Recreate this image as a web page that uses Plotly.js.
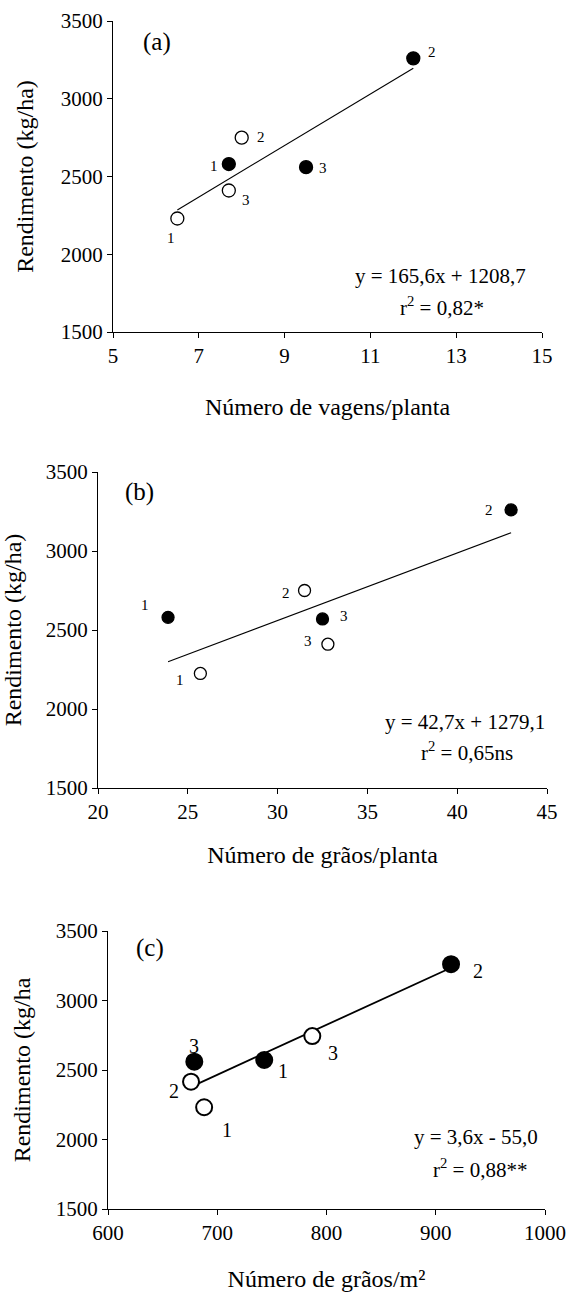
<!DOCTYPE html>
<html>
<head>
<meta charset="utf-8">
<script src="https://cdn.plot.ly/plotly-3.0.1.min.js"></script>
<style>html,body{margin:0;padding:0;background:#fff;}#chart{width:568px;height:1292px;}</style>
</head>
<body>
<div id="chart"></div>
<script>
// ---------- DATA ----------
const pointLabels = ["1", "2", "3"];

// Panel (a): Número de vagens/planta
const aOpenX = [6.5, 8.0, 7.7];
const aOpenY = [2230, 2750, 2410];
const aFilledX = [7.7, 12.0, 9.5];
const aFilledY = [2580, 3260, 2560];
const aSlope = 165.6, aIntercept = 1208.7;
const aEq = ["y = 165,6x + 1208,7", "r<sup>2</sup> = 0,82*"];

// Panel (b): Número de grãos/planta
const bOpenX = [25.7, 31.5, 32.8];
const bOpenY = [2225, 2750, 2410];
const bFilledX = [23.9, 43.0, 32.5];
const bFilledY = [2580, 3260, 2570];
const bSlope = 42.7, bIntercept = 1279.1;
const bEq = ["y = 42,7x + 1279,1", "r<sup>2</sup> = 0,65ns"];

// Panel (c): Número de grãos/m²
const cOpenX = [688, 676, 787];
const cOpenY = [2232, 2416, 2744];
const cFilledX = [743, 914, 679];
const cFilledY = [2572, 3261, 2560];
const cSlope = 3.6, cIntercept = -55.0;
const cEq = ["y = 3,6x - 55,0", "r<sup>2</sup> = 0,88**"];

const yTicks = [1500, 2000, 2500, 3000, 3500];
const aXTicks = [5, 7, 9, 11, 13, 15];
const bXTicks = [20, 25, 30, 35, 40, 45];
const cXTicks = [600, 700, 800, 900, 1000];

const panelLetters = ["(a)", "(b)", "(c)"];
const xTitles = ["Número de vagens/planta", "Número de grãos/planta", "Número de grãos/m²"];
const yTitles = ["Rendimento (kg/ha)", "Rendimento (kg/ha)", "Rendimento (kg/ha"];

// ---------- STYLE / LAYOUT ----------
const FONT = "'Liberation Serif', 'Times New Roman', serif";
const W = 568, H = 1292;
const px = v => v / W;
const py = v => 1 - v / H;

const panels = [
  {open:[aOpenX,aOpenY], filled:[aFilledX,aFilledY], slope:aSlope, icpt:aIntercept, eq:aEq,
   xr:[5,15], ticks:aXTicks, dom:{x:[113,542], y:[21,332]}, msize:13, mline:1.3, lblSize:15,
   openOff:[[-6,-20],[19,1],[17,-10]], filledOff:[[-15,-2],[19,6],[17,-1]],
   eqPos:[[440,276],[442,307]], letterPos:[157,42], xtStand:30, ytStand:20},
  {open:[bOpenX,bOpenY], filled:[bFilledX,bFilledY], slope:bSlope, icpt:bIntercept, eq:bEq,
   xr:[20,45], ticks:bXTicks, dom:{x:[98,547], y:[472,788]}, msize:12, mline:1.3, lblSize:15,
   openOff:[[-20,-7],[-19,-2],[-20,3]], filledOff:[[-23,12],[-22,0],[21,3]],
   eqPos:[[465,722],[467,752]], letterPos:[139,492], xtStand:22, ytStand:18},
  {open:[cOpenX,cOpenY], filled:[cFilledX,cFilledY], slope:cSlope, icpt:cIntercept, eq:cEq,
   xr:[600,1000], ticks:cXTicks, dom:{x:[108,545], y:[931,1209]}, msize:16, mline:2, lblSize:20,
   openOff:[[23,-23],[-17,-9],[21,-17]], filledOff:[[19,-11],[27,-7],[0,16]],
   eqPos:[[476,1137],[480,1168]], letterPos:[150,948], xtStand:34, ytStand:18}
];

const traces = [];
const annotations = [];
const layout = {
  width: W, height: H,
  margin: {l:0, r:0, t:0, b:0},
  paper_bgcolor: "#fff", plot_bgcolor: "#fff",
  showlegend: false,
  font: {family: FONT, color: "#000"},
  annotations: annotations
};

panels.forEach((p, i) => {
  const n = i === 0 ? "" : String(i + 1);
  const xa = "x" + n, ya = "y" + n;
  const allX = p.open[0].concat(p.filled[0]);
  const x0 = Math.min(...allX), x1 = Math.max(...allX);

  // regression line
  traces.push({type:"scatter", mode:"lines", xaxis:xa, yaxis:ya,
    x:[x0, x1], y:[p.slope*x0 + p.icpt, p.slope*x1 + p.icpt],
    line:{color:"#000", width: i === 2 ? 1.8 : 1.1}, hoverinfo:"skip"});
  // open circles
  traces.push({type:"scatter", mode:"markers", xaxis:xa, yaxis:ya,
    x:p.open[0], y:p.open[1],
    marker:{symbol:"circle", size:p.msize, color:"#fff", line:{color:"#000", width:p.mline}}});
  // filled circles
  traces.push({type:"scatter", mode:"markers", xaxis:xa, yaxis:ya,
    x:p.filled[0], y:p.filled[1],
    marker:{symbol:"circle", size:p.msize, color:"#000", line:{color:"#000", width:p.mline}}});

  // point labels
  [[p.open, p.openOff], [p.filled, p.filledOff]].forEach(([set, off]) => {
    set[0].forEach((xv, k) => {
      annotations.push({xref:xa, yref:ya, x:xv, y:set[1][k], text:pointLabels[k],
        showarrow:false, xshift:off[k][0], yshift:off[k][1],
        font:{family:FONT, size:p.lblSize, color:"#000"}});
    });
  });

  // equation text
  p.eq.forEach((t, k) => {
    annotations.push({xref:"paper", yref:"paper", x:px(p.eqPos[k][0]), y:py(p.eqPos[k][1]),
      xanchor:"center", yanchor:"middle", text:t, showarrow:false,
      font:{family:FONT, size:21, color:"#000"}});
  });
  // panel letter
  annotations.push({xref:"paper", yref:"paper", x:px(p.letterPos[0]), y:py(p.letterPos[1]),
    xanchor:"center", yanchor:"middle", text:panelLetters[i], showarrow:false,
    font:{family:FONT, size:25, color:"#000"}});

  const axisCommon = {showgrid:false, zeroline:false, showline:true, linecolor:"#000", linewidth:1,
    ticks:"outside", ticklen:5, tickwidth:1, tickcolor:"#000", ticklabeloverflow:"allow",
    tickfont:{family:FONT, size:21, color:"#000"}, fixedrange:true};

  layout["xaxis" + n] = Object.assign({}, axisCommon, {
    domain:[px(p.dom.x[0]), px(p.dom.x[1])], anchor:ya,
    range:[p.xr[0], p.xr[1]], tickvals:p.ticks, ticktext:p.ticks.map(String),
    title:{text:xTitles[i], font:{family:FONT, size:24, color:"#000"}, standoff:p.xtStand}
  });
  layout["yaxis" + n] = Object.assign({}, axisCommon, {
    domain:[py(p.dom.y[1]), py(p.dom.y[0])], anchor:xa,
    range:[1500, 3500], tickvals:yTicks, ticktext:yTicks.map(String),
    title:{text:yTitles[i], font:{family:FONT, size:24, color:"#000"}, standoff:p.ytStand}
  });
});

Plotly.newPlot("chart", traces, layout, {staticPlot:true, displayModeBar:false});
</script>
</body>
</html>
